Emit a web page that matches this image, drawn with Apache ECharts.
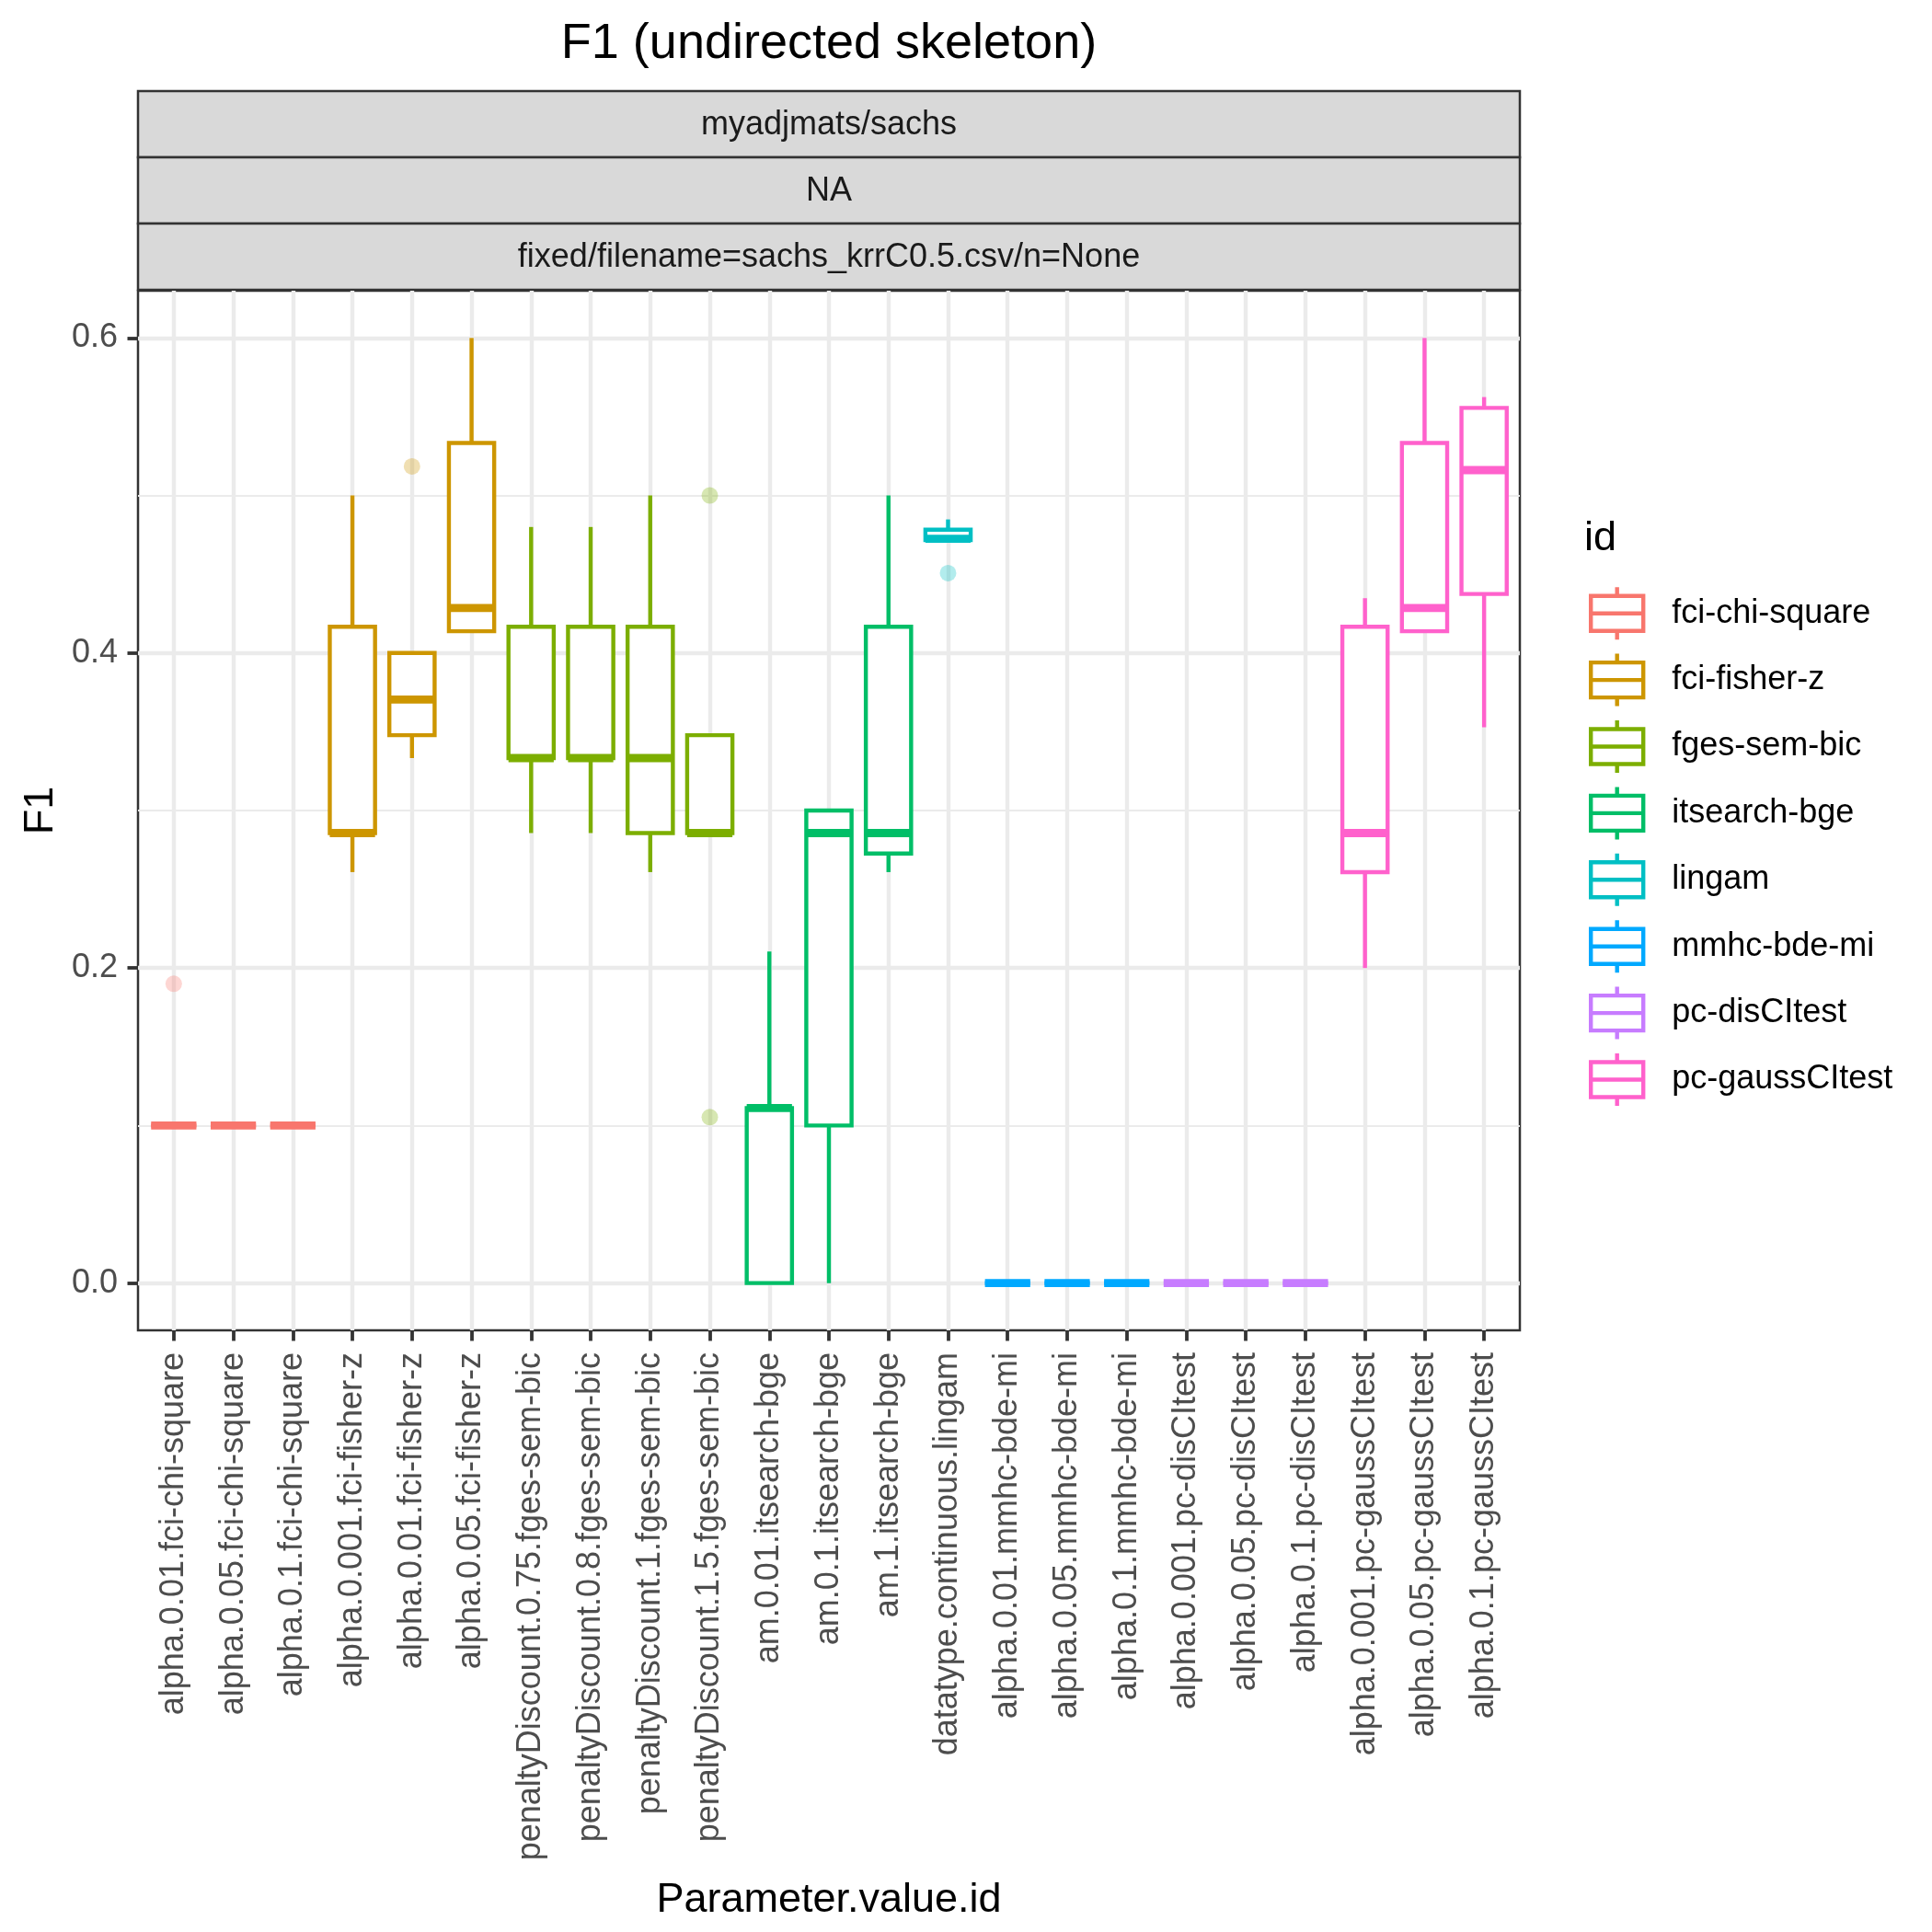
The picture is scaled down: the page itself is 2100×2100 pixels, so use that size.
<!DOCTYPE html>
<html>
<head>
<meta charset="utf-8">
<script src="https://cdn.jsdelivr.net/npm/echarts@6/dist/echarts.min.js"></script>
<style>html,body{margin:0;padding:0;background:#fff}#c{width:2100px;height:2100px}</style>
</head>
<body>
<div id="c"></div>
<script>
const CATEGORIES = [
  'alpha.0.01.fci-chi-square','alpha.0.05.fci-chi-square','alpha.0.1.fci-chi-square',
  'alpha.0.001.fci-fisher-z','alpha.0.01.fci-fisher-z','alpha.0.05.fci-fisher-z',
  'penaltyDiscount.0.75.fges-sem-bic','penaltyDiscount.0.8.fges-sem-bic','penaltyDiscount.1.fges-sem-bic','penaltyDiscount.1.5.fges-sem-bic',
  'am.0.01.itsearch-bge','am.0.1.itsearch-bge','am.1.itsearch-bge',
  'datatype.continuous.lingam',
  'alpha.0.01.mmhc-bde-mi','alpha.0.05.mmhc-bde-mi','alpha.0.1.mmhc-bde-mi',
  'alpha.0.001.pc-disCItest','alpha.0.05.pc-disCItest','alpha.0.1.pc-disCItest',
  'alpha.0.001.pc-gaussCItest','alpha.0.05.pc-gaussCItest','alpha.0.1.pc-gaussCItest'
];
const IDS = ['fci-chi-square','fci-fisher-z','fges-sem-bic','itsearch-bge','lingam','mmhc-bde-mi','pc-disCItest','pc-gaussCItest'];
const COLORS = ['#F8766D','#CD9600','#7CAE00','#00BE67','#00BFC4','#00A9FF','#C77CFF','#FF61CC'];
const GROUP = [0,0,0,1,1,1,2,2,2,2,3,3,3,4,5,5,5,6,6,6,7,7,7];
const LOW  = [0.1,0.1,0.1,0.2609,0.3333,0.4138,0.2857,0.2857,0.2609,0.2857,0,0,0.2609,0.4717,0,0,0,0,0,0,0.2,0.4138,0.3529];
const Q1   = [0.1,0.1,0.1,0.2857,0.3478,0.4138,0.3333,0.3333,0.2857,0.2857,0,0.1,0.2727,0.4717,0,0,0,0,0,0,0.2609,0.4138,0.4375];
const MED  = [0.1,0.1,0.1,0.2857,0.3704,0.4286,0.3333,0.3333,0.3333,0.2857,0.1111,0.2857,0.2857,0.4725,0,0,0,0,0,0,0.2857,0.4286,0.5161];
const Q3   = [0.1,0.1,0.1,0.4167,0.4,0.5333,0.4167,0.4167,0.4167,0.3478,0.1111,0.3,0.4167,0.4783,0,0,0,0,0,0,0.4167,0.5333,0.5556];
const HIGH = [0.1,0.1,0.1,0.5,0.4,0.6,0.48,0.48,0.5,0.3478,0.2105,0.3,0.5,0.4848,0,0,0,0,0,0,0.4348,0.6,0.5625];
const OUTLIER_X = [1,5,10,10,14];
const OUTLIER_Y = [0.19,0.5185,0.5,0.1053,0.4507];
const Y_MAJOR = [0,0.2,0.4,0.6];
const Y_MINOR = [0.1,0.3,0.5];
const X_TICKS = CATEGORIES.map((c,i)=>i+1);

const FONT = 'Liberation Sans';
const LW = 4.4;

function renderBox(params, api) {
  const x = api.value(0);
  const lo = api.coord([x, api.value(1)]);
  const q1 = api.coord([x, api.value(2)]);
  const md = api.coord([x, api.value(3)]);
  const q3 = api.coord([x, api.value(4)]);
  const hi = api.coord([x, api.value(5)]);
  const hw = api.size([0.76, 0])[0] / 2;
  const col = COLORS[params.seriesIndex];
  const cx = lo[0];
  return {
    type: 'group',
    children: [
      {type:'line', shape:{x1:cx,y1:q3[1],x2:cx,y2:hi[1]}, style:{stroke:col,lineWidth:LW}},
      {type:'line', shape:{x1:cx,y1:q1[1],x2:cx,y2:lo[1]}, style:{stroke:col,lineWidth:LW}},
      {type:'rect', shape:{x:cx-hw,y:q3[1],width:2*hw,height:q1[1]-q3[1]}, style:{fill:'#ffffff',stroke:col,lineWidth:LW}},
      {type:'line', shape:{x1:cx-hw,y1:md[1],x2:cx+hw,y2:md[1]}, style:{stroke:col,lineWidth:LW*2}}
    ]
  };
}

const boxSeries = IDS.map((id, g) => ({
  name: id,
  type: 'custom',
  renderItem: renderBox,
  itemStyle: {color: COLORS[g], borderColor: COLORS[g]},
  encode: {x: 0, y: [1,2,3,4,5]},
  data: CATEGORIES.map((c,i)=>i).filter(i=>GROUP[i]===g).map(i=>[i+1, LOW[i], Q1[i], MED[i], Q3[i], HIGH[i]]),
  z: 3
}));

const outlierSeries = {
  name: 'outliers',
  type: 'scatter',
  symbolSize: 18,
  z: 4,
  data: OUTLIER_X.map((x,k)=>({value:[x, OUTLIER_Y[k]], itemStyle:{color: COLORS[GROUP[x-1]], opacity: 0.3}}))
};

const BOXICON = 'path://M28.5,0V9.5M0,9.5H57V47.5H0ZM0,28.5H57M28.5,47.5V57';

const chart = echarts.init(document.getElementById('c'), null, {renderer:'canvas'});
chart.setOption({
  backgroundColor: '#ffffff',
  animation: false,
  textStyle: {fontFamily: FONT},
  grid: {left:150, top:316, width:1502, height:1130, show:true, backgroundColor:'#ffffff', borderColor:'#333333', borderWidth:2.5, containLabel:false},
  xAxis: {
    type:'value', min:0.4, max:23.6, position:'bottom',
    axisLine:{show:false, onZero:false},
    axisTick:{show:true, customValues:X_TICKS, length:11.5, lineStyle:{color:'#333333', width:3.8}},
    axisLabel:{customValues:X_TICKS, rotate:90, margin:24, fontSize:36, color:'#4D4D4D', fontFamily:FONT,
      formatter: v => CATEGORIES[Math.round(v)-1]},
    splitLine:{show:true, lineStyle:{color:'#EBEBEB', width:LW}},
    name:'Parameter.value.id', nameLocation:'middle', nameGap:597,
    nameTextStyle:{fontSize:45, color:'#000000', fontFamily:FONT}
  },
  yAxis: [
    {
      type:'value', min:-0.03, max:0.63, position:'left',
      axisLine:{show:false, onZero:false},
      axisTick:{show:true, customValues:Y_MAJOR, length:11.5, lineStyle:{color:'#333333', width:3.8}},
      axisLabel:{customValues:Y_MAJOR, margin:22, fontSize:36, color:'#4D4D4D', fontFamily:FONT, formatter: v => v.toFixed(1)},
      splitLine:{show:true, lineStyle:{color:'#EBEBEB', width:LW}},
      name:'F1', nameLocation:'middle', nameGap:82, nameRotate:90,
      nameTextStyle:{fontSize:45, color:'#000000', fontFamily:FONT}
    },
    {
      type:'value', min:-0.03, max:0.63, position:'left',
      axisLine:{show:false, onZero:false},
      axisTick:{show:false, customValues:Y_MINOR},
      axisLabel:{show:false, customValues:Y_MINOR},
      splitLine:{show:true, lineStyle:{color:'#EBEBEB', width:LW/2}}
    }
  ],
  legend: {
    orient:'vertical', left:1727, top:636, padding:0,
    itemWidth:57, itemHeight:57, itemGap:11,
    icon: BOXICON,
    textStyle:{fontSize:36, color:'#000000', fontFamily:FONT, padding:[0,0,0,26]},
    data: IDS.map((id,g)=>({name:id, icon:BOXICON, itemStyle:{color:'rgba(0,0,0,0)', borderColor:COLORS[g], borderWidth:LW}}))
  },
  graphic: [
    {type:'text', x:901, y:48, style:{text:'F1 (undirected skeleton)', font:'54px "Liberation Sans"', fill:'#000000', textAlign:'center', textVerticalAlign:'middle'}},
    {type:'rect', shape:{x:150, y:99, width:1502, height:72}, style:{fill:'#D9D9D9', stroke:'#333333', lineWidth:2.5}},
    {type:'rect', shape:{x:150, y:171, width:1502, height:72}, style:{fill:'#D9D9D9', stroke:'#333333', lineWidth:2.5}},
    {type:'rect', shape:{x:150, y:243, width:1502, height:72}, style:{fill:'#D9D9D9', stroke:'#333333', lineWidth:2.5}},
    {type:'text', x:901, y:136, style:{text:'myadjmats/sachs', font:'36px "Liberation Sans"', fill:'#1A1A1A', textAlign:'center', textVerticalAlign:'middle'}},
    {type:'text', x:901, y:208, style:{text:'NA', font:'36px "Liberation Sans"', fill:'#1A1A1A', textAlign:'center', textVerticalAlign:'middle'}},
    {type:'text', x:901, y:280, style:{text:'fixed/filename=sachs_krrC0.5.csv/n=None', font:'36px "Liberation Sans"', fill:'#1A1A1A', textAlign:'center', textVerticalAlign:'middle'}},
    {type:'text', x:1722, y:586, style:{text:'id', font:'45px "Liberation Sans"', fill:'#000000', textAlign:'left', textVerticalAlign:'middle'}}
  ],
  series: boxSeries.concat([outlierSeries])
});
</script>
</body>
</html>
